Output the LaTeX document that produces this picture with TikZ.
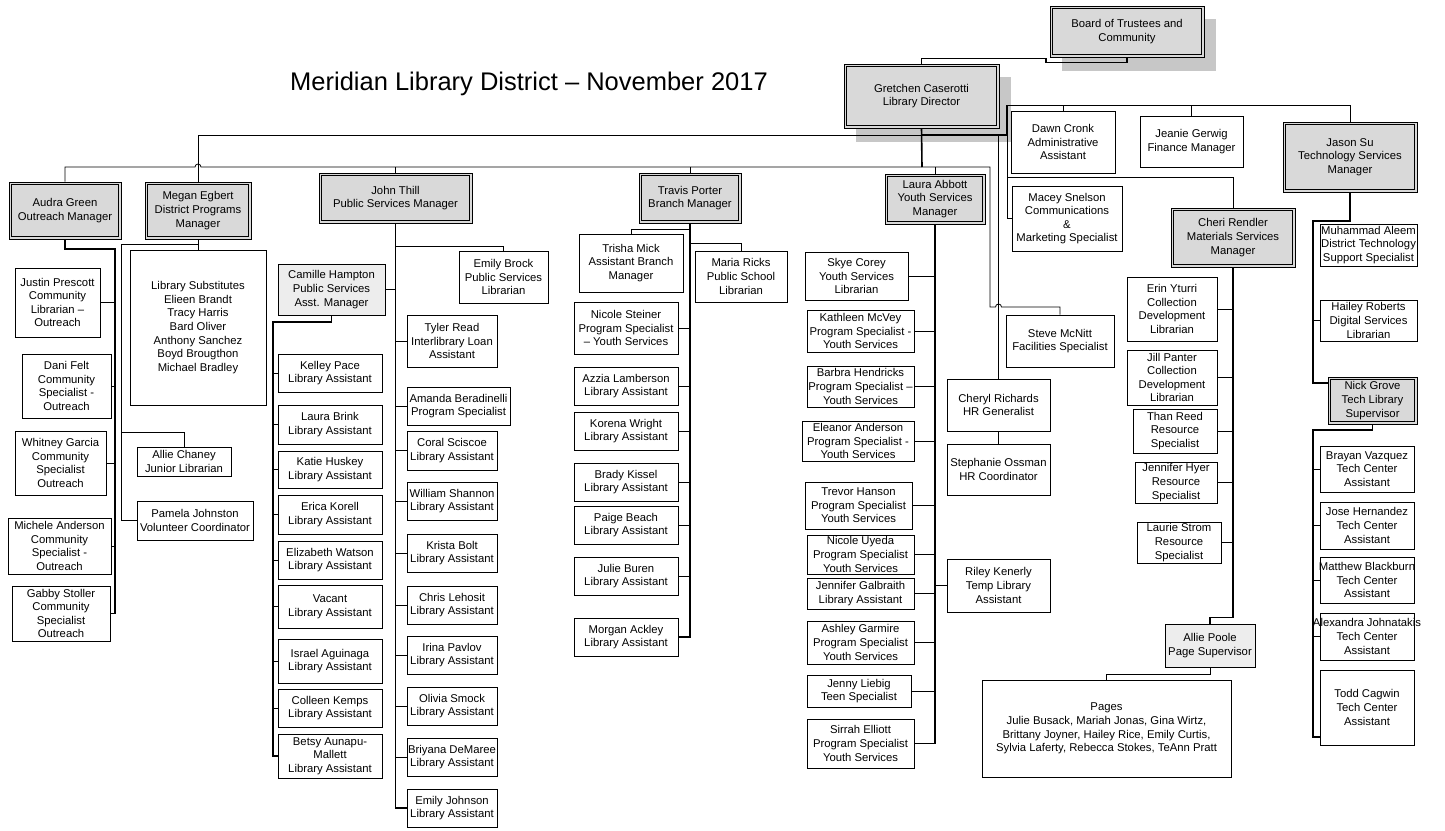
\documentclass[tikz,border=0pt]{standalone}
\usepackage{fontspec}
\setmainfont{Liberation Sans}
\usetikzlibrary{backgrounds,calc}
\colorlet{lead fill}{black!15}
\colorlet{deputy fill}{black!7}
\colorlet{shadow area}{black!22}
\newcommand{\overhang}[1]{\makebox[0pt]{#1}}
\tikzset{cell/.style args={#1/#2/#3/#4}{minimum width={#3-#1}, minimum height={#4-#2},
        at={({(#1+#3)/2},{(#2+#4)/2})}},
    staff/.style={draw, line width=0.7pt, fill=white, align=center, inner sep=0pt},
    lead/.style={staff, fill=lead fill},
    deputy/.style={staff, fill=deputy fill},
    inner rim/.style={line width=1.1pt},
    link/.style={line width=0.8pt},
    spine/.style={line width=1.6pt},
    ghost/.style={fill=shadow area}}

\begin{document}
\begin{tikzpicture}[x=1pt, y=-1pt, font=\fontsize{11.3}{13.6}\selectfont]
    \useasboundingbox (0,0) rectangle (1445,830);
    \node[font=\fontsize{25.5}{30}\selectfont] (title) at (529,84) {Meridian Library District -- November 2017};

    % board and director
    \node[lead, cell=1050/6/1204/57] (board) {Board of Trustees and\\Community};
    \node[lead, cell=844/64/999/128] (gretchen) {Gretchen Caserotti\\Library Director};
    \node[staff, cell=1011/111/1115/173] (dawn) {Dawn Cronk\\Administrative\\Assistant};
    \node[staff, cell=1140/116/1243/167] (jeanie) {Jeanie Gerwig\\Finance Manager};
    \node[lead, cell=1283/122/1417/192] (jason) {Jason Su\\Technology Services\\Manager};
    \node[staff, cell=1012/186/1122/251] (macey) {Macey Snelson\\Communications\\\&\\Marketing Specialist};
    \node[lead, cell=1171/208/1295/267] (cheri) {Cheri Rendler\\Materials Services\\Manager};
    \node[staff, cell=1006/315/1114/367] (steve) {Steve McNitt\\Facilities Specialist};
    \node[staff, cell=947/379/1050/431] (cheryl) {Cheryl Richards\\HR Generalist};
    \node[staff, cell=947/444/1050/495] (stephanie) {Stephanie Ossman\\HR Coordinator};
    \node[staff, cell=947/559/1050/612] (riley) {Riley Kenerly\\Temp Library\\Assistant};

    % managers
    \node[lead, cell=9/182/121/239] (audra) {Audra Green\\Outreach Manager};
    \node[lead, cell=145/182/251/239] (megan) {Megan Egbert\\District Programs\\Manager};
    \node[lead, cell=319/173/472/223] (john) {John Thill\\Public Services Manager};
    \node[lead, cell=639/173/741/223] (travis) {Travis Porter\\Branch Manager};
    \node[lead, cell=885/174/985/224] (laura) {Laura Abbott\\Youth Services\\Manager};

    % outreach
    \node[staff, cell=15/268/100/337] (justin) {Justin Prescott\\Community\\Librarian --\\Outreach};
    \node[staff, cell=22/354/111/418] (dani) {Dani Felt\\Community\\Specialist -\\Outreach};
    \node[staff, cell=15/431/106/495] (whitney) {Whitney Garcia\\Community\\Specialist\\Outreach};
    \node[staff, cell=8/518/111/574] (michele) {Michele Anderson\\Community\\Specialist -\\Outreach};
    \node[staff, cell=12/586/110/641] (gabby) {Gabby Stoller\\Community\\Specialist\\Outreach};

    % district programs
    \node[staff, cell=130/250/266/405] (subs) {Library Substitutes\\Elieen Brandt\\Tracy Harris\\Bard Oliver\\Anthony Sanchez\\Boyd Brougthon\\Michael Bradley};
    \node[staff, cell=137/447/231/476] (allie) {Allie Chaney\\Junior Librarian};
    \node[staff, cell=137/501/253/540] (pamela) {Pamela Johnston\\Volunteer Coordinator};

    % public services
    \node[deputy, cell=278/264/385/315] (camille) {Camille Hampton\\Public Services\\Asst. Manager};
    \node[staff, cell=278/354/382/392] (kelley) {Kelley Pace\\Library Assistant};
    \node[staff, cell=278/405/382/444] (laurab) {Laura Brink\\Library Assistant};
    \node[staff, cell=278/451/382/488] (katie) {Katie Huskey\\Library Assistant};
    \node[staff, cell=278/495/382/534] (erica) {Erica Korell\\Library Assistant};
    \node[staff, cell=278/541/382/579] (elizabeth) {Elizabeth Watson\\Library Assistant};
    \node[staff, cell=278/585/382/628] (vacant) {Vacant\\Library Assistant};
    \node[staff, cell=278/639/382/683] (israel) {Israel Aguinaga\\Library Assistant};
    \node[staff, cell=278/689/382/727] (colleen) {Colleen Kemps\\Library Assistant};
    \node[staff, cell=278/734/382/778] (betsy) {Betsy Aunapu-\\Mallett\\Library Assistant};
    \node[staff, cell=459/251/548/303] (brock) {Emily Brock\\Public Services\\Librarian};
    \node[staff, cell=407/315/497/367] (tyler) {Tyler Read\\Interlibrary Loan\\Assistant};
    \node[staff, cell=407/387/510/425] (amanda) {Amanda Beradinelli\\Program Specialist};
    \node[staff, cell=407/431/497/470] (coral) {Coral Sciscoe\\Library Assistant};
    \node[staff, cell=407/482/497/520] (william) {William Shannon\\Library Assistant};
    \node[staff, cell=407/534/497/572] (krista) {Krista Bolt\\Library Assistant};
    \node[staff, cell=407/586/497/624] (chris) {Chris Lehosit\\Library Assistant};
    \node[staff, cell=407/636/497/674] (irina) {Irina Pavlov\\Library Assistant};
    \node[staff, cell=407/687/497/725] (olivia) {Olivia Smock\\Library Assistant};
    \node[staff, cell=407/738/497/776] (briyana) {\overhang{Briyana DeMaree}\\Library Assistant};
    \node[staff, cell=407/789/497/827] (emilyj) {Emily Johnson\\Library Assistant};

    % branch
    \node[staff, cell=579/234/683/292] (trisha) {Trisha Mick\\Assistant Branch\\Manager};
    \node[staff, cell=695/251/787/302] (maria) {Maria Ricks\\Public School\\Librarian};
    \node[staff, cell=574/302/678/354] (nicoles) {Nicole Steiner\\Program Specialist\\-- Youth Services};
    \node[staff, cell=574/367/678/405] (azzia) {Azzia Lamberson\\Library Assistant};
    \node[staff, cell=574/412/678/450] (korena) {Korena Wright\\Library Assistant};
    \node[staff, cell=574/463/678/501] (brady) {Brady Kissel\\Library Assistant};
    \node[staff, cell=574/506/678/544] (paige) {Paige Beach\\Library Assistant};
    \node[staff, cell=574/557/678/595] (julie) {Julie Buren\\Library Assistant};
    \node[staff, cell=574/618/678/656] (morgan) {Morgan Ackley\\Library Assistant};

    % youth services
    \node[staff, cell=805/252/908/300] (skye) {Skye Corey\\Youth Services\\Librarian};
    \node[staff, cell=807/310/914/352] (kathleen) {Kathleen McVey\\Program Specialist -\\Youth Services};
    \node[staff, cell=807/366/914/407] (barbra) {Barbra Hendricks\\Program Specialist --\\Youth Services};
    \node[staff, cell=802/421/914/461] (eleanor) {Eleanor Anderson\\Program Specialist -\\Youth Services};
    \node[staff, cell=805/482/912/529] (trevor) {Trevor Hanson\\Program Specialist\\Youth Services};
    \node[staff, cell=807/535/914/574] (nicoleu) {Nicole Uyeda\\Program Specialist\\Youth Services};
    \node[staff, cell=807/578/914/609] (jgalbraith) {Jennifer Galbraith\\Library Assistant};
    \node[staff, cell=807/621/914/664] (ashley) {Ashley Garmire\\Program Specialist\\Youth Services};
    \node[staff, cell=807/675/911/707] (jenny) {Jenny Liebig\\Teen Specialist};
    \node[staff, cell=807/719/914/768] (sirrah) {Sirrah Elliott\\Program Specialist\\Youth Services};

    % materials
    \node[staff, cell=1127/277/1217/341] (erin) {Erin Yturri\\Collection\\Development\\Librarian};
    \node[staff, cell=1127/350/1217/405] (jill) {Jill Panter\\Collection\\Development\\Librarian};
    \node[staff, cell=1133/409/1217/453] (than) {Than Reed\\Resource\\Specialist};
    \node[staff, cell=1135/462/1217/503] (jhyer) {Jennifer Hyer\\Resource\\Specialist};
    \node[staff, cell=1137/522/1221/563] (laurie) {Laurie Strom\\Resource\\Specialist};
    \node[deputy, cell=1165/624/1255/667] (poole) {Allie Poole\\Page Supervisor};
    \node[staff, cell=982/680/1231/777] (pages) {Pages\\Julie Busack, Mariah Jonas, Gina Wirtz,\\Brittany Joyner, Hailey Rice, Emily Curtis,\\Sylvia Laferty, Rebecca Stokes, TeAnn Pratt};

    % technology
    \node[staff, cell=1320/224/1417/266] (muhammad) {Muhammad Aleem\\District Technology\\Support Specialist};
    \node[staff, cell=1320/300/1417/341] (hailey) {Hailey Roberts\\Digital Services\\Librarian};
    \node[lead, cell=1328/377/1417/424] (nick) {Nick Grove\\Tech Library\\Supervisor};
    \node[staff, cell=1320/446/1414/492] (brayan) {Brayan Vazquez\\Tech Center\\Assistant};
    \node[staff, cell=1320/502/1414/549] (jose) {Jose Hernandez\\Tech Center\\Assistant};
    \node[staff, cell=1320/557/1414/603] (matthew) {\overhang{Matthew Blackburn}\\Tech Center\\Assistant};
    \node[staff, cell=1320/613/1414/660] (alexandra) {\overhang{Alexandra Johnatakis}\\Tech Center\\Assistant};
    \node[staff, cell=1320/670/1414/745] (todd) {Todd Cagwin\\Tech Center\\Assistant};

    % inner rims of the lead boxes
    \foreach \n in {board,gretchen,jason,cheri,audra,megan,john,travis,laura,nick}
        \draw[inner rim] ($(\n.north west)+(2.6,2.6)$) rectangle ($(\n.south east)+(-2.6,-2.6)$);

    % shadows
    \begin{scope}[on background layer]
        \fill[ghost] ($(board.north west)+(12,13)$) rectangle ($(board.south east)+(12,14)$);
        \fill[ghost] ($(gretchen.north west)+(12,13)$) rectangle ($(gretchen.south east)+(12,14)$);
    \end{scope}

    % bus points
    \coordinate (hubA) at (922,135);
    \coordinate (hubB) at (922,167);
    \coordinate (eastA) at (1007,135);
    \coordinate (topbus) at (1007,105);
    \coordinate (matbus) at (1007,177);
    \coordinate (steveturn) at (990,167);
    \coordinate (stevebend) at (990,307);
    \coordinate (hopB) at (megan.north |- hubB);

    \draw[spine] (board.south) -- ++(0,5) -| ++(-81,-4) -| (gretchen.north);
    \draw[spine] (gretchen.south) -- (hubB);
    \draw[link] (megan.north) |- (hubA);
    \draw[spine] (hubA) -- (eastA) -- (topbus);
    \draw[link] (topbus) -| (jason.north);
    \draw[link] (dawn.north) -- (dawn.north |- topbus);
    \draw[link] (jeanie.north) -- (jeanie.north |- topbus);
    \draw[link] (eastA) |- (macey.west);
    \draw[link] (matbus) -| (cheri.north);
    \draw[link] (cheryl.north) -- (cheryl.north |- hubA);
    \draw[link] (cheryl.south) -- (stephanie.north);

    \draw[link] (audra.north) |- ($(hopB)+(-3,0)$) arc[start angle=180, end angle=360, radius=3]
        -- (steveturn) -- (stevebend) -- ($(stevebend -| cheryl.north)+(-3,0)$)
        arc[start angle=180, end angle=360, radius=3] -| (steve.north);
    \foreach \n in {john,travis,laura}
        \draw[link] (\n.north) -- (\n.north |- hubB);

    % outreach team
    \coordinate (ospine) at (115,249);
    \draw[spine] (audra.south) |- (ospine) -- (ospine |- gabby.east) -- (gabby.east);
    \foreach \n in {justin,dani,whitney,michele}
        \draw[link] (\n.east) -- (\n.east -| ospine);

    % programs team
    \coordinate (pspine) at (121,244);
    \coordinate (alliebend) at (121,432);
    \draw[link] (megan.south) -- (megan.south |- subs.north);
    \draw[link] (megan.south |- pspine) -- (pspine) |- (pamela.west);
    \draw[link] (alliebend) -| (allie.north);

    % public services team
    \coordinate (cspine) at (273,322);
    \coordinate (brockbend) at (john.south |- 0,246);
    \draw[spine] (john.south) -- (john.south |- emilyj.west) -- (emilyj.west);
    \draw[link] (camille.east) -- (camille.east -| john.south);
    \draw[link] (brockbend) -| (brock.north);
    \foreach \n in {tyler,amanda,coral,william,krista,chris,irina,olivia,briyana}
        \draw[link] (\n.west) -- (\n.west -| john.south);
    \draw[spine] (camille.south) |- (cspine) -- (cspine |- betsy.west) -- (betsy.west);
    \foreach \n in {kelley,laurab,katie,erica,elizabeth,vacant,israel,colleen}
        \draw[link] (\n.west) -- (\n.west -| cspine);

    % branch team
    \coordinate (trishabend) at (travis.south |- 0,229);
    \coordinate (mariabend) at (travis.south |- 0,243);
    \draw[spine] (travis.south) -- (travis.south |- morgan.east) -- (morgan.east);
    \draw[link] (trishabend) -| (trisha.north);
    \draw[link] (mariabend) -| (maria.north);
    \foreach \n in {nicoles,azzia,korena,brady,paige,julie}
        \draw[link] (\n.east) -- (\n.east -| travis.south);

    % youth team
    \draw[spine] (laura.south) -- (laura.south |- sirrah.east) -- (sirrah.east);
    \foreach \n in {skye,kathleen,barbra,eleanor,trevor,nicoleu,jgalbraith,ashley,jenny}
        \draw[link] (\n.east) -- (\n.east -| laura.south);
    \draw[link] (riley.west) -- (riley.west -| laura.south);

    % materials team
    \draw[spine] (cheri.south) -- ++(0,350) -| (poole.north);
    \foreach \n in {erin,jill,than,jhyer,laurie}
        \draw[link] (\n.east) -- (\n.east -| cheri.south);
    \draw[link] (poole.south) -- ++(0,7) -| (pages.north);

    % technology team
    \coordinate (tspine) at (1313,221);
    \coordinate (nickbend) at (1313,383);
    \coordinate (nspine) at (1313,430);
    \coordinate (toddbend) at (1313,737);
    \draw[spine] (jason.south) |- (tspine) -- (nickbend) -- (nickbend -| nick.west);
    \draw[link] (hailey.west) -- (hailey.west -| tspine);
    \draw[spine] (nick.south) |- (nspine) -- (toddbend) -- (toddbend -| todd.west);
    \foreach \n in {brayan,jose,matthew,alexandra}
        \draw[link] (\n.west) -- (\n.west -| nspine);
\end{tikzpicture}
\end{document}
